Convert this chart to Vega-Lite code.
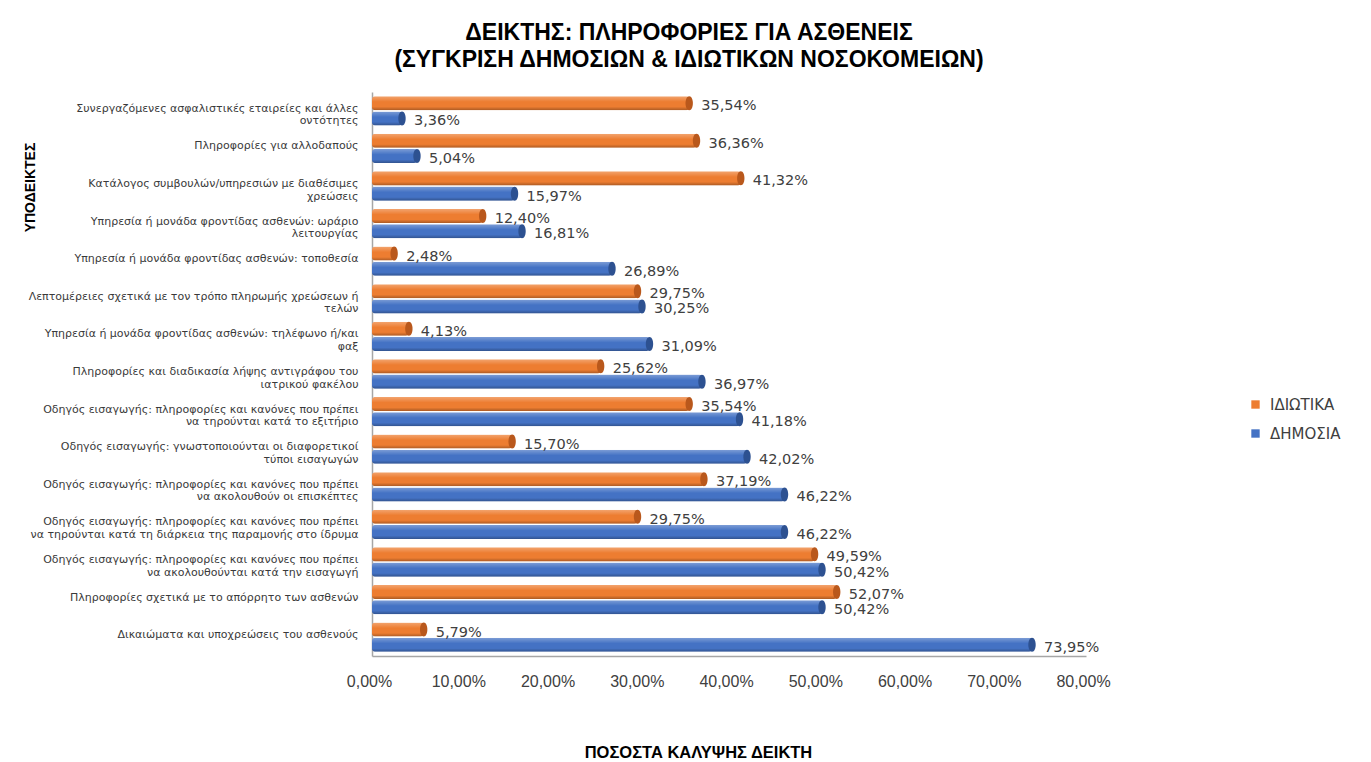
{
  "$schema": "https://vega.github.io/schema/vega-lite/v6.json",
  "autosize": {"type": "none"},
  "width": 714,
  "height": 564,
  "padding": {"left": 372, "top": 92, "right": 285, "bottom": 106},
  "background": "white",
  "title": {
    "text": ["ΔΕΙΚΤΗΣ: ΠΛΗΡΟΦΟΡΙΕΣ ΓΙΑ ΑΣΘΕΝΕΙΣ", "(ΣΥΓΚΡΙΣΗ ΔΗΜΟΣΙΩΝ & ΙΔΙΩΤΙΚΩΝ ΝΟΣΟΚΟΜΕΙΩΝ)"],
    "anchor": "middle",
    "dx": -40,
    "offset": 20,
    "font": "Liberation Sans",
    "fontSize": 23,
    "fontWeight": "bold",
    "color": "#000000",
    "lineHeight": 27
  },
  "data": {
    "values": [
      {"cat": "Συνεργαζόμενες ασφαλιστικές εταιρείες και άλλες\nοντότητες", "series": "ΙΔΙΩΤΙΚΑ", "value": 35.54},
      {"cat": "Συνεργαζόμενες ασφαλιστικές εταιρείες και άλλες\nοντότητες", "series": "ΔΗΜΟΣΙΑ", "value": 3.36},
      {"cat": "Πληροφορίες για αλλοδαπούς", "series": "ΙΔΙΩΤΙΚΑ", "value": 36.36},
      {"cat": "Πληροφορίες για αλλοδαπούς", "series": "ΔΗΜΟΣΙΑ", "value": 5.04},
      {"cat": "Κατάλογος συμβουλών/υπηρεσιών με διαθέσιμες\nχρεώσεις", "series": "ΙΔΙΩΤΙΚΑ", "value": 41.32},
      {"cat": "Κατάλογος συμβουλών/υπηρεσιών με διαθέσιμες\nχρεώσεις", "series": "ΔΗΜΟΣΙΑ", "value": 15.97},
      {"cat": "Υπηρεσία ή μονάδα φροντίδας ασθενών: ωράριο\nλειτουργίας", "series": "ΙΔΙΩΤΙΚΑ", "value": 12.40},
      {"cat": "Υπηρεσία ή μονάδα φροντίδας ασθενών: ωράριο\nλειτουργίας", "series": "ΔΗΜΟΣΙΑ", "value": 16.81},
      {"cat": "Υπηρεσία ή μονάδα φροντίδας ασθενών: τοποθεσία", "series": "ΙΔΙΩΤΙΚΑ", "value": 2.48},
      {"cat": "Υπηρεσία ή μονάδα φροντίδας ασθενών: τοποθεσία", "series": "ΔΗΜΟΣΙΑ", "value": 26.89},
      {"cat": "Λεπτομέρειες σχετικά με τον τρόπο πληρωμής χρεώσεων ή\nτελών", "series": "ΙΔΙΩΤΙΚΑ", "value": 29.75},
      {"cat": "Λεπτομέρειες σχετικά με τον τρόπο πληρωμής χρεώσεων ή\nτελών", "series": "ΔΗΜΟΣΙΑ", "value": 30.25},
      {"cat": "Υπηρεσία ή μονάδα φροντίδας ασθενών: τηλέφωνο ή/και\nφαξ", "series": "ΙΔΙΩΤΙΚΑ", "value": 4.13},
      {"cat": "Υπηρεσία ή μονάδα φροντίδας ασθενών: τηλέφωνο ή/και\nφαξ", "series": "ΔΗΜΟΣΙΑ", "value": 31.09},
      {"cat": "Πληροφορίες και διαδικασία λήψης αντιγράφου του\nιατρικού φακέλου", "series": "ΙΔΙΩΤΙΚΑ", "value": 25.62},
      {"cat": "Πληροφορίες και διαδικασία λήψης αντιγράφου του\nιατρικού φακέλου", "series": "ΔΗΜΟΣΙΑ", "value": 36.97},
      {"cat": "Οδηγός εισαγωγής: πληροφορίες και κανόνες που πρέπει\nνα τηρούνται κατά το εξιτήριο", "series": "ΙΔΙΩΤΙΚΑ", "value": 35.54},
      {"cat": "Οδηγός εισαγωγής: πληροφορίες και κανόνες που πρέπει\nνα τηρούνται κατά το εξιτήριο", "series": "ΔΗΜΟΣΙΑ", "value": 41.18},
      {"cat": "Οδηγός εισαγωγής: γνωστοποιούνται οι διαφορετικοί\nτύποι εισαγωγών", "series": "ΙΔΙΩΤΙΚΑ", "value": 15.70},
      {"cat": "Οδηγός εισαγωγής: γνωστοποιούνται οι διαφορετικοί\nτύποι εισαγωγών", "series": "ΔΗΜΟΣΙΑ", "value": 42.02},
      {"cat": "Οδηγός εισαγωγής: πληροφορίες και κανόνες που πρέπει\nνα ακολουθούν οι επισκέπτες", "series": "ΙΔΙΩΤΙΚΑ", "value": 37.19},
      {"cat": "Οδηγός εισαγωγής: πληροφορίες και κανόνες που πρέπει\nνα ακολουθούν οι επισκέπτες", "series": "ΔΗΜΟΣΙΑ", "value": 46.22},
      {"cat": "Οδηγός εισαγωγής: πληροφορίες και κανόνες που πρέπει\nνα τηρούνται κατά τη διάρκεια της παραμονής στο ίδρυμα", "series": "ΙΔΙΩΤΙΚΑ", "value": 29.75},
      {"cat": "Οδηγός εισαγωγής: πληροφορίες και κανόνες που πρέπει\nνα τηρούνται κατά τη διάρκεια της παραμονής στο ίδρυμα", "series": "ΔΗΜΟΣΙΑ", "value": 46.22},
      {"cat": "Οδηγός εισαγωγής: πληροφορίες και κανόνες που πρέπει\nνα ακολουθούνται κατά την εισαγωγή", "series": "ΙΔΙΩΤΙΚΑ", "value": 49.59},
      {"cat": "Οδηγός εισαγωγής: πληροφορίες και κανόνες που πρέπει\nνα ακολουθούνται κατά την εισαγωγή", "series": "ΔΗΜΟΣΙΑ", "value": 50.42},
      {"cat": "Πληροφορίες σχετικά με το απόρρητο των ασθενών", "series": "ΙΔΙΩΤΙΚΑ", "value": 52.07},
      {"cat": "Πληροφορίες σχετικά με το απόρρητο των ασθενών", "series": "ΔΗΜΟΣΙΑ", "value": 50.42},
      {"cat": "Δικαιώματα και υποχρεώσεις του ασθενούς", "series": "ΙΔΙΩΤΙΚΑ", "value": 5.79},
      {"cat": "Δικαιώματα και υποχρεώσεις του ασθενούς", "series": "ΔΗΜΟΣΙΑ", "value": 73.95}
    ]
  },
  "transform": [
    {"calculate": "replace(format(datum.value, '.2f'), '.', ',') + '%'", "as": "lbl"}
  ],
  "encoding": {
    "y": {
      "field": "cat",
      "type": "nominal",
      "sort": null,
      "scale": {"paddingInner": 0.22, "paddingOuter": 0.11},
      "axis": {
        "title": "ΥΠΟΔΕΙΚΤΕΣ",
        "titleFont": "Liberation Sans",
        "titleFontSize": 14,
        "titleFontWeight": "bold",
        "titleColor": "#000000",
        "titleAngle": 270,
        "titleX": -342,
        "titleY": 95,
        "titleAlign": "center",
        "titleBaseline": "middle",
        "labelExpr": "split(datum.value, '\\n')",
        "labelFont": "DejaVu Sans",
        "labelFontSize": 11,
        "labelColor": "#3A3A3A",
        "labelLineHeight": 12.5,
        "labelPadding": 14,
        "labelLimit": 400,
        "labelOffset": -2,
        "ticks": false,
        "domain": true,
        "domainColor": "#A6A6A6",
        "domainWidth": 1.5,
        "grid": false
      }
    },
    "yOffset": {
      "field": "series",
      "type": "nominal",
      "sort": ["ΙΔΙΩΤΙΚΑ", "ΔΗΜΟΣΙΑ"],
      "scale": {"paddingInner": 0.08}
    },
    "x": {
      "field": "value",
      "type": "quantitative",
      "scale": {"domain": [0, 80], "nice": false},
      "axis": {
        "title": "ΠΟΣΟΣΤΑ ΚΑΛΥΨΗΣ ΔΕΙΚΤΗ",
        "titleFont": "Liberation Sans",
        "titleFontSize": 16.5,
        "titleFontWeight": "bold",
        "titleColor": "#000000",
        "titleX": 326,
        "titleY": 96,
        "titleAlign": "center",
        "titleBaseline": "middle",
        "values": [0, 10, 20, 30, 40, 50, 60, 70, 80],
        "labelExpr": "replace(format(datum.value, '.2f'), '.', ',') + '%'",
        "labelFont": "Liberation Sans",
        "labelFontSize": 16,
        "labelColor": "#404040",
        "labelPadding": 17,
        "labelOffset": -3,
        "labelFlush": false,
        "labelOverlap": false,
        "ticks": false,
        "grid": false,
        "domainColor": "#A6A6A6",
        "domainWidth": 1.5
      }
    }
  },
  "layer": [
    {
      "mark": {"type": "bar", "cornerRadius": 3},
      "encoding": {
        "color": {
          "field": "series",
          "type": "nominal",
          "scale": {"domain": ["ΙΔΙΩΤΙΚΑ", "ΔΗΜΟΣΙΑ"], "range": ["#ED7D31", "#4472C4"]},
          "legend": {
            "title": null,
            "orient": "none",
            "legendX": 876,
            "legendY": 305,
            "symbolType": "square",
            "symbolSize": 70,
            "symbolStrokeWidth": 0,
            "labelFont": "DejaVu Sans",
            "labelFontSize": 15,
            "labelColor": "#404040",
            "rowPadding": 13,
            "labelOffset": 7
          }
        }
      }
    },
    {
      "mark": {
        "type": "bar",
        "cornerRadius": 3,
        "color": {
          "gradient": "linear",
          "x1": 0, "y1": 0, "x2": 0, "y2": 1,
          "stops": [
            {"offset": 0, "color": "rgba(255,255,255,0.30)"},
            {"offset": 0.4, "color": "rgba(255,255,255,0.0)"},
            {"offset": 0.75, "color": "rgba(0,0,0,0.0)"},
            {"offset": 1, "color": "rgba(0,0,0,0.28)"}
          ]
        }
      }
    },
    {
      "mark": {
        "type": "point",
        "filled": true,
        "opacity": 1,
        "size": 196,
        "strokeWidth": 0,
        "shape": "M0,-1 C0.7,-1 0.7,1 0,1 C-0.7,1 -0.7,-1 0,-1 Z"
      },
      "encoding": {
        "fill": {
          "field": "series",
          "type": "nominal",
          "scale": {"domain": ["ΙΔΙΩΤΙΚΑ", "ΔΗΜΟΣΙΑ"], "range": ["#B9581C", "#2D5191"]},
          "legend": null
        }
      }
    },
    {
      "mark": {
        "type": "text",
        "align": "left",
        "baseline": "middle",
        "dx": 12,
        "dy": 3,
        "font": "DejaVu Sans",
        "fontSize": 14.5,
        "color": "#404040"
      },
      "encoding": {"text": {"field": "lbl"}}
    }
  ],
  "config": {
    "view": {"stroke": null}
  }
}
